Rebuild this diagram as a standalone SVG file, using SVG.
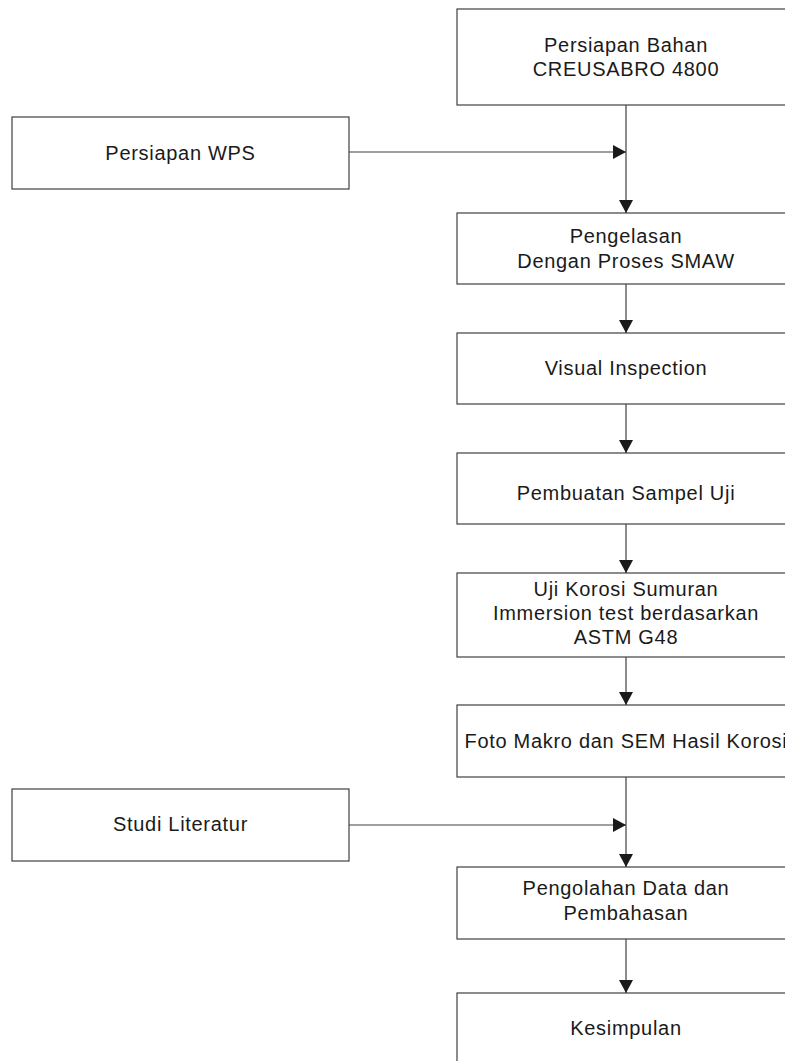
<svg xmlns="http://www.w3.org/2000/svg" width="785" height="1061" viewBox="0 0 785 1061">
<style>
.box{fill:#ffffff;stroke:#404040;stroke-width:1.2}
.t{font-family:"Liberation Sans",Arial,sans-serif;font-size:20px;letter-spacing:0.7px;fill:#1a1a1a;text-anchor:middle}
.c{stroke:#404040;stroke-width:1.2;fill:none}
</style>
<defs>
<marker id="ah" viewBox="0 0 14 14" refX="13" refY="7" markerWidth="14" markerHeight="14" markerUnits="userSpaceOnUse" orient="auto">
<path d="M0,0 L13,7 L0,14 Z" fill="#1a1a1a"/>
</marker>
</defs>
<rect width="785" height="1061" fill="#ffffff"/>
<g id="n1"><rect class="box" x="457" y="9" width="340" height="96"/><text class="t" x="626" y="52">Persiapan Bahan</text><text class="t" x="626" y="76">CREUSABRO 4800</text></g>
<g id="n2"><rect class="box" x="12" y="117" width="337" height="72"/><text class="t" x="180.5" y="160">Persiapan WPS</text></g>
<g id="n3"><rect class="box" x="457" y="213" width="340" height="71"/><text class="t" x="626" y="243">Pengelasan</text><text class="t" x="626" y="267.5">Dengan Proses SMAW</text></g>
<g id="n4"><rect class="box" x="457" y="333" width="340" height="71"/><text class="t" x="626" y="375">Visual Inspection</text></g>
<g id="n5"><rect class="box" x="457" y="453" width="340" height="71"/><text class="t" x="626" y="500">Pembuatan Sampel Uji</text></g>
<g id="n6"><rect class="box" x="457" y="573" width="340" height="84"/><text class="t" x="626" y="596">Uji Korosi Sumuran</text><text class="t" x="626" y="620">Immersion test berdasarkan</text><text class="t" x="626" y="644">ASTM G48</text></g>
<g id="n7"><rect class="box" x="457" y="705" width="340" height="72"/><text class="t" x="626" y="748">Foto Makro dan SEM Hasil Korosi</text></g>
<g id="n8"><rect class="box" x="12" y="789" width="337" height="72"/><text class="t" x="180.5" y="831">Studi Literatur</text></g>
<g id="n9"><rect class="box" x="457" y="867" width="340" height="72"/><text class="t" x="626" y="895">Pengolahan Data dan</text><text class="t" x="626" y="920">Pembahasan</text></g>
<g id="n10"><rect class="box" x="457" y="993" width="340" height="72"/><text class="t" x="626" y="1035">Kesimpulan</text></g>
<g id="connectors">
<line class="c" x1="626" y1="105" x2="626" y2="213" marker-end="url(#ah)"/>
<line class="c" x1="349" y1="152" x2="626" y2="152" marker-end="url(#ah)"/>
<line class="c" x1="626" y1="284" x2="626" y2="333" marker-end="url(#ah)"/>
<line class="c" x1="626" y1="404" x2="626" y2="453" marker-end="url(#ah)"/>
<line class="c" x1="626" y1="524" x2="626" y2="573" marker-end="url(#ah)"/>
<line class="c" x1="626" y1="657" x2="626" y2="705" marker-end="url(#ah)"/>
<line class="c" x1="626" y1="777" x2="626" y2="867" marker-end="url(#ah)"/>
<line class="c" x1="349" y1="825" x2="626" y2="825" marker-end="url(#ah)"/>
<line class="c" x1="626" y1="939" x2="626" y2="993" marker-end="url(#ah)"/>
</g>
</svg>
